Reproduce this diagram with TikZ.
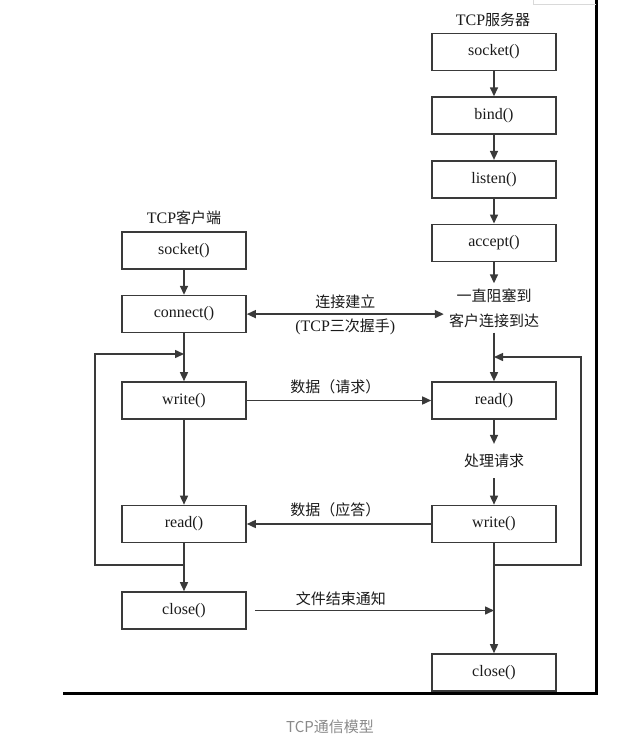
\documentclass[tikz,border=0pt]{standalone}
\usepackage{fontspec}
\setmainfont{Liberation Serif}
\newfontfamily\cjk{Noto Sans CJK SC}
\usepackage{xcolor}
\definecolor{cLine}{HTML}{3A3A3A}
\definecolor{cText}{HTML}{1A1A1A}
\definecolor{cCaption}{HTML}{8A8A8A}
\definecolor{cFaint}{HTML}{D9D9D9}
\usepackage{tikz}
\usetikzlibrary{positioning,arrows.meta,calc}
\tikzset{
  fn-box/.style={draw=cLine,line width=1.6pt,minimum width=124pt,
    minimum height=37pt,inner sep=0pt,font=\fontsize{16}{19}\selectfont,text=cText},
  side-title/.style={font=\fontsize{16}{19}\selectfont,text=cText},
  note-text/.style={align=center,font=\cjk\fontsize{15}{25}\selectfont,
    text=cText,inner xsep=5pt,inner ysep=5pt},
  step-text/.style={font=\cjk\fontsize{15}{18}\selectfont,text=cText,inner ysep=10pt},
  edge-label/.style={font=\fontsize{16}{19}\selectfont,text=cText,inner sep=2pt},
  % 实线箭头 / 双向箭头 / 外框粗线
  arrow/.style={-{Triangle[length=9pt,width=8pt]},line width=1.5pt,draw=cLine},
  arrow-both/.style={{Triangle[length=9pt,width=8pt]}-{Triangle[length=9pt,width=8pt]},
    line width=1.5pt,draw=cLine},
  frame-line/.style={line width=3pt,draw=black},
}

\begin{document}
\begin{tikzpicture}[x=1pt,y=-1pt]
  \useasboundingbox (0,0) rectangle (637,744);
  \node[side-title]                    (stitle)  at (493,20)  {TCP{\cjk\fontsize{15}{18}\selectfont 服务器}};
  \node[fn-box]                        (ssock)   at (494,52)  {socket()};
  \node[fn-box,below=25pt of ssock]    (sbind)   {bind()};
  \node[fn-box,below=25pt of sbind]    (slisten) {listen()};
  \node[fn-box,below=25pt of slisten]  (saccept) {accept()};
  \node[note-text]                     (swait)   at (494,308) {一直阻塞到\\客户连接到达};
  \node[fn-box]                        (sread)   at (494,400.5) {read()};
  \node[step-text]                     (sproc)   at (494,461) {处理请求};
  \node[fn-box]                        (swrite)  at (494,524) {write()};
  \node[fn-box]                        (sclose)  at (494,672.5) {close()};
  \node[side-title]                    (ctitle)  at (184,218) {TCP{\cjk\fontsize{15}{18}\selectfont 客户端}};
  \node[fn-box]                        (csock)   at (184,250.5) {socket()};
  \node[fn-box,below=25pt of csock]    (cconn)   {connect()};
  \node[fn-box]                        (cwrite)  at (184,400.5) {write()};
  \node[fn-box]                        (cread)   at (184,524) {read()};
  \node[fn-box]                        (cclose)  at (184,610.5) {close()};
  \coordinate (sfork) at (494,565);
  \coordinate (sjoin) at (494,357);
  \coordinate (cfork) at (184,565);
  \coordinate (cjoin) at (184,354);
  \draw[arrow] (ssock)   -- (sbind);
  \draw[arrow] (sbind)   -- (slisten);
  \draw[arrow] (slisten) -- (saccept);
  \draw[arrow] (saccept) -- (swait);
  \draw[arrow] (swait)   -- (sread);
  \draw[arrow] (sread)   -- (sproc);
  \draw[arrow] (sproc)   -- (swrite);
  \draw[arrow] (swrite)  -- (sclose);
  \draw[arrow] (sfork) -- ++(87,0) |- (sjoin);
  \draw[arrow] (csock)   -- (cconn);
  \draw[arrow] (cconn)   -- (cwrite);
  \draw[arrow] (cwrite)  -- (cread);
  \draw[arrow] (cread)   -- (cclose);
  \draw[arrow] (cfork) -- ++(-89,0) |- (cjoin);
  \draw[arrow-both] (cconn.east) -- (cconn.east -| swait.west)
    node[edge-label,midway,above=3pt] {\cjk\fontsize{15}{18}\selectfont 连接建立}
    node[edge-label,midway,below=2.5pt] {(TCP{\cjk\fontsize{15}{18}\selectfont 三次握手})};
  \draw[arrow] (cwrite) -- (sread)
    node[edge-label,pos=0.48,above=4pt] {\cjk\fontsize{15}{18}\selectfont 数据（请求）};
  \draw[arrow] (swrite) -- (cread)
    node[edge-label,pos=0.52,above=4pt] {\cjk\fontsize{15}{18}\selectfont 数据（应答）};
  \draw[arrow] ([xshift=8pt]cclose.east) -- (cclose.east -| sclose.north)
    node[edge-label,pos=0.36,above=2pt] {\cjk\fontsize{15}{18}\selectfont 文件结束通知};
  \draw[frame-line] (63,693) -- (596,693) -- (596,0);
  \draw[cFaint,line width=0.8pt] (533,0) -- (533,4) -- (596,4);
  \node[font=\cjk\fontsize{15}{18}\selectfont,text=cCaption] (caption) at (330,727) {TCP通信模型};
\end{tikzpicture}
\end{document}
